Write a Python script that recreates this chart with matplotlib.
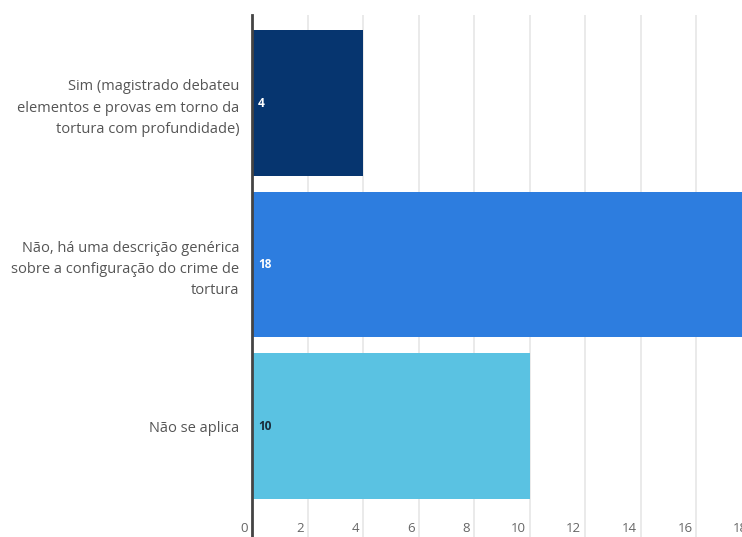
import matplotlib.pyplot as plt
from matplotlib.transforms import ScaledTranslation, blended_transform_factory

categories = [
    "Sim (magistrado debateu\nelementos e provas em torno da\ntortura com profundidade)",
    "Não, há uma descrição genérica\nsobre a configuração do crime de\ntortura",
    "Não se aplica",
]
values = [4, 18, 10]
colors = ["#06356f", "#2d7ddf", "#5ac2e2"]
label_colors = ["white", "white", "#1a2a3a"]
xticks = list(range(0, 19, 2))

W, H, DPI = 742, 537, 100
plt.rcParams["font.family"] = ["Open Sans", "DejaVu Sans"]
fig = plt.figure(figsize=(W / DPI, H / DPI), dpi=DPI)

# axes in pixel terms: left 252, top 15, bottom 515, x=18 at ~752 (cropped)
left, right, top, bottom = 252, 752, 15, 515
ax = fig.add_axes([left / W, 1 - bottom / H, (right - left) / W, (bottom - top) / H])

ypos = list(range(len(categories)))
ax.barh(ypos, values, height=0.9, color=colors, zorder=2)
ax.set_xlim(0, 18)
ax.set_ylim(2.551, -0.545)

for y, v, c in zip(ypos, values, label_colors):
    ax.annotate(str(v), (0, y), xytext=(6, 0), textcoords="offset pixels",
                ha="left", va="center", fontsize=8.5, fontweight="bold", color=c, zorder=3)

ax.set_yticks(ypos)
ax.set_yticklabels(categories, fontsize=10.5, color="#555555", linespacing=1.55)
ax.tick_params(axis="y", length=0, pad=9)

ax.set_xticks(xticks)
ax.set_xticklabels([str(t) for t in xticks], fontsize=9.5, color="#666666")
ax.tick_params(axis="x", length=22 * 72 / DPI, width=1.2, color="#e6e6e6",
               pad=-15 * 72 / DPI)
for lab in ax.get_xticklabels():
    lab.set_ha("right")
    lab.set_transform(lab.get_transform() + ScaledTranslation(-4 / DPI, 0, fig.dpi_scale_trans))

ax.grid(axis="x", color="#e6e6e6", linewidth=1.2, zorder=0)
for s in ax.spines.values():
    s.set_visible(False)

trans = blended_transform_factory(ax.transData, ax.transAxes)
ax.plot([0, 0], [-0.05, 1], transform=trans, color="#444444", linewidth=2, clip_on=False, zorder=4)

fig.savefig("out.png", dpi=DPI)
